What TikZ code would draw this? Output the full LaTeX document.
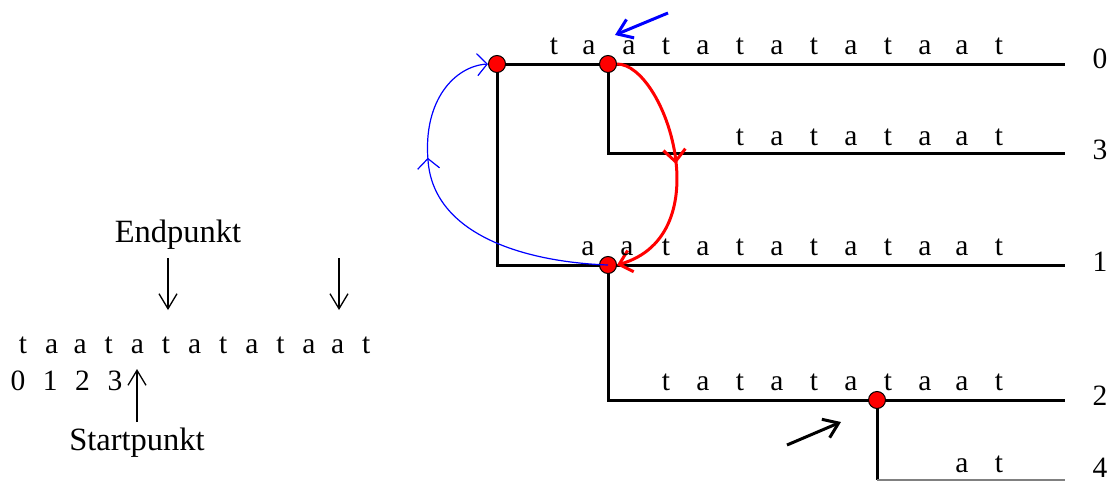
\documentclass[tikz,border=0pt]{standalone}
\usepackage{fontspec}
\setmainfont{Liberation Serif}
\usetikzlibrary{arrows.meta,decorations.markings}
\begin{document}
\begin{tikzpicture}[x=1pt,y=-1pt,
  tree/.style={line width=3pt,black},
  thinline/.style={line width=1.5pt,gray},
  dot/.style={circle,fill=red,draw=black,line width=1pt,minimum size=17pt,inner sep=0pt},
  letter/.style={font=\fontsize{29.5}{31}\selectfont,inner sep=0pt,anchor=base},
  lbl/.style={font=\fontsize{32.5}{35}\selectfont,inner sep=0pt,anchor=base},
  barb/.style={-{Straight Barb[length=15pt,width=18pt]},line width=1.3pt},
  bluearrow/.style={-{Straight Barb[length=14pt,width=20pt]},line width=3pt,blue},
  blackarrow/.style={-{Straight Barb[length=14pt,width=20pt]},line width=3pt,black},
  bluecurve/.style={line width=1.2pt,blue,-{Straight Barb[length=10pt,width=22pt]},
    postaction={decorate},decoration={markings,mark=at position 0.65 with {\arrow{Straight Barb[length=10pt,width=22pt]}}}},
  redcurve/.style={line width=3pt,red,-{Straight Barb[length=12pt,width=22pt]},
    postaction={decorate},decoration={markings,mark=at position 0.49 with {\arrow{Straight Barb[length=12pt,width=22pt]}}}}
]
\useasboundingbox (0,0) rectangle (1112,482);

% coordinates of the tree
\coordinate (a) at (497,64);
\coordinate (b) at (608,64);
\coordinate (c) at (608,265);
\coordinate (d) at (877,400);
\coordinate (e0) at (1065,64);
\coordinate (e3) at (1065,153);
\coordinate (e1) at (1065,265);
\coordinate (e2) at (1065,400);
\coordinate (e4) at (1065,480);
\coordinate (k3) at (608,153);
\coordinate (k1) at (497,265);
\coordinate (k2) at (608,400);
\coordinate (k4) at (877,480);
\coordinate (bm) at (428,160);

% tree lines
\draw[tree] (a) -- (e0);
\draw[tree] (b) -- (k3) -- (e3);
\draw[tree] (a) -- (k1) -- (e1);
\draw[tree] (c) -- (k2) -- (e2);
\draw[tree] (d) -- (k4);
\draw[thinline] (k4) -- (e4);

% dots
\node[dot] (na) at (a) {};
\node[dot] (nb) at (b) {};
\node[dot] (nc) at (c) {};
\node[dot] (nd) at (d) {};

% curves
\draw[bluecurve] (nc.center) .. controls (525,262) and (433,235) .. (bm)
  .. controls (423,100) and (455,66) .. (na.west);
\draw[redcurve] (nb.east) .. controls (665,64) and (722,235) .. (nc.east);

% top and bottom arrows
\coordinate (bt) at (668,13);
\coordinate (bh) at (615,35);
\draw[bluearrow] (bt) -- (bh);
\coordinate (kt) at (787,445);
\coordinate (kh) at (841,422);
\draw[blackarrow] (kt) -- (kh);

% row labels
\node[letter] (l0) at (1100,68) {0};
\node[letter] (l3) at (1100,159) {3};
\node[letter] (l1) at (1100,271) {1};
\node[letter] (l2) at (1100,405) {2};
\node[letter] (l4) at (1100,477) {4};

% row texts
\foreach \c/\x [count=\i] in {t/554,a/589,a/629,t/666,a/703,t/740,a/777,t/814,a/851,t/888,a/925,a/962,t/999}
  \node[letter] (r0-\i) at (\x,54) {\c};
\foreach \c/\x [count=\i] in {t/740,a/777,t/814,a/851,t/888,a/925,a/962,t/999}
  \node[letter] (r3-\i) at (\x,145) {\c};
\foreach \c/\x [count=\i] in {a/588,a/627,t/666,a/703,t/740,a/777,t/814,a/851,t/888,a/925,a/962,t/999}
  \node[letter] (r1-\i) at (\x,255) {\c};
\foreach \c/\x [count=\i] in {t/666,a/703,t/740,a/777,t/814,a/851,t/888,a/925,a/962,t/999}
  \node[letter] (r2-\i) at (\x,390) {\c};
\foreach \c/\x [count=\i] in {a/962,t/999}
  \node[letter] (r4-\i) at (\x,472) {\c};

% left side
\foreach \c [count=\i] in {t,a,a,t,a,t,a,t,a,t,a,a,t}
  \node[letter] (s-\i) at ({23+28.6*(\i-1)},353) {\c};
\foreach \c [count=\i] in {0,1,2,3}
  \node[letter] (n-\i) at ({18+32.3*(\i-1)},390) {\c};

\node[lbl] (endp) at (178,242) {Endpunkt};
\node[lbl] (startp) at (137,450) {Startpunkt};

\coordinate (ea1) at (168,258);
\coordinate (eh1) at (168,310);
\coordinate (ea2) at (339,258);
\coordinate (eh2) at (339,310);
\coordinate (sa) at (137,422);
\coordinate (sh) at (137,369);
\draw[barb] (ea1) -- (eh1);
\draw[barb] (ea2) -- (eh2);
\draw[barb] (sa) -- (sh);
\end{tikzpicture}
\end{document}
